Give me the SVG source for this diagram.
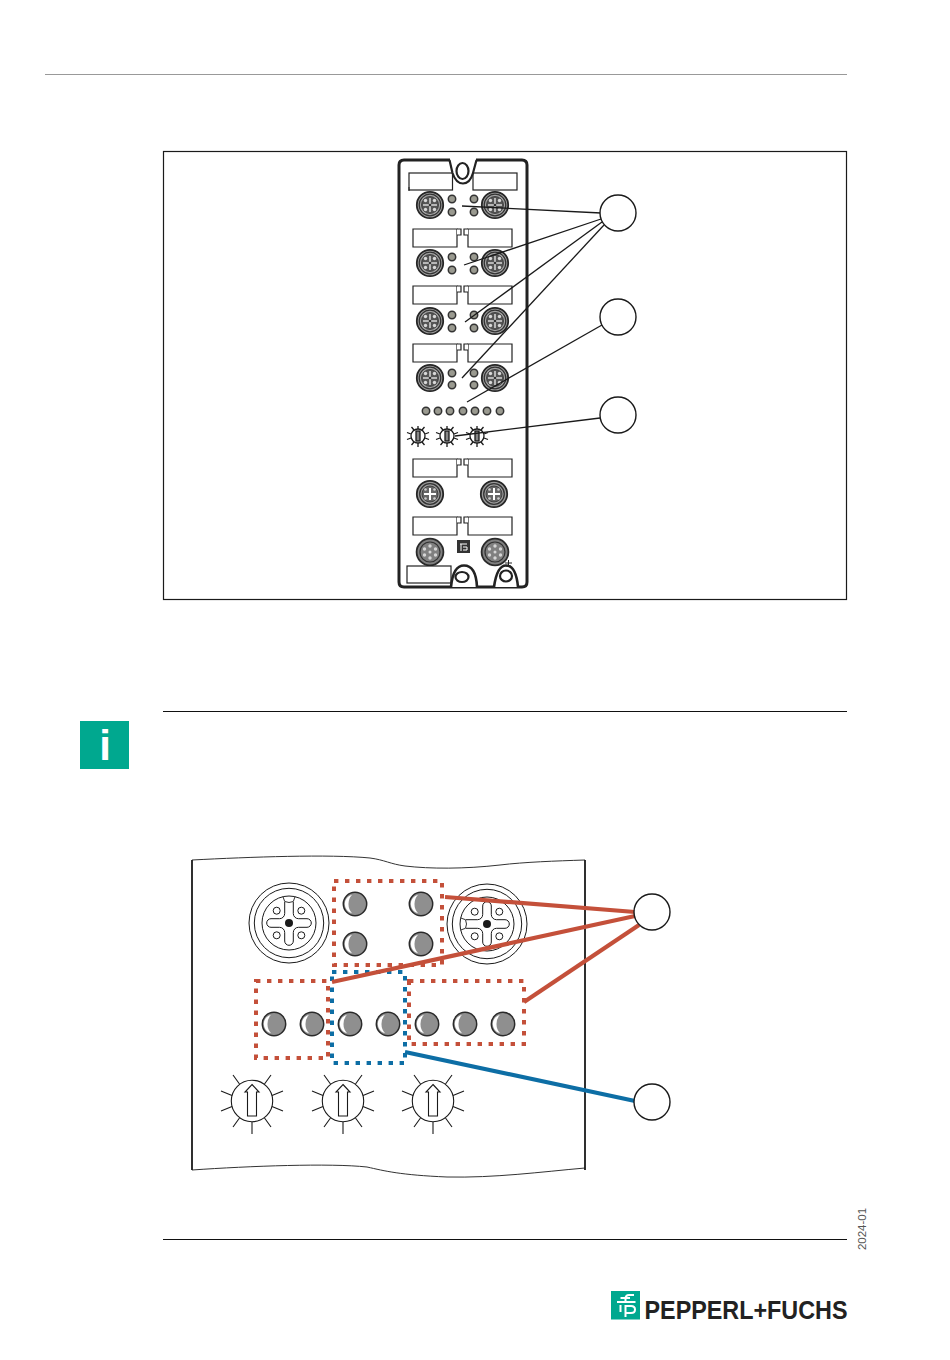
<svg xmlns="http://www.w3.org/2000/svg" width="950" height="1360" viewBox="0 0 950 1360">
<style>
.ln{fill:none;stroke:#1a1a1a}
.lab{fill:#fff;stroke:#222;stroke-width:1.2}
.led{fill:#8f8f8f;stroke:#2a2a2a;stroke-width:1.5}
.sled{fill:#9a9a90;stroke:#333;stroke-width:1.5}
.call{fill:#fff;stroke:#1a1a1a;stroke-width:1.4}
.lead{fill:none;stroke:#1a1a1a;stroke-width:1.3}
.red{fill:none;stroke:#c4503a;stroke-width:4;stroke-dasharray:4.4 6.6}
.blue{fill:none;stroke:#0d6ea5;stroke-width:4;stroke-dasharray:4.4 6.6}
.redl{fill:none;stroke:#c4503a;stroke-width:4.2}
.bluel{fill:none;stroke:#0d6ea5;stroke-width:4.2}
</style>
<defs>
<g id="led"><circle r="11.7" class="led"/><path d="M-3,-9.3A9.6,9.6 0 0 0 -3,9.3A14,14 0 0 1 -3,-9.3Z" fill="#fff"/></g>
<g id="bigcon" class="ln" stroke-width="1">
<circle r="40"/><circle r="34.7"/><circle r="27"/>
<path d="M-4.300,-21V-9.500A5.200,5.200 0 0 1 -9.500,-4.300H-18A4.300,4.300 0 0 0 -18,4.300H-9.500A5.200,5.200 0 0 1 -4.300,9.500V18A4.300,4.300 0 0 0 4.300,18V9.500A5.200,5.200 0 0 1 9.500,4.300H18A4.300,4.300 0 0 0 18,-4.300H9.500A5.200,5.200 0 0 1 4.300,-9.500V-21"/>
<path d="M-6,-26.300L-4.300,-21.500Q0,-19.500 4.300,-21.500L6,-26.300" stroke-width="0.9"/>
<circle cx="-12.300" cy="-12.300" r="3.500"/><circle cx="12.300" cy="-12.300" r="3.500"/><circle cx="-12.300" cy="12.300" r="3.500"/><circle cx="12.300" cy="12.300" r="3.500"/>
<circle r="4" fill="#1a1a1a" stroke="none"/>
</g>
<g id="knob" class="ln" stroke-width="1.1">
<circle r="20.700"/>
<path d="M0,21V33M-12.500,17L-19,26M12.500,17L19,26M-20,5.500L-31,10M20,5.500L31,10M-20,-5.500L-31,-10M20,-5.500L31,-10M-12.500,-17L-19,-26M12.500,-17L19,-26"/>
<path d="M0,-16.500L7,-9H4.500V15H-4.500V-9H-7Z"/>
</g>
<g id="sknob" class="ln" stroke-width="1.3">
<circle r="7"/>
<path d="M0,7V11M-4,6L-6.500,9M4,6L6.500,9M-7,2L-11,3.500M7,2L11,3.500M-7,-2L-11,-3.500M7,-2L11,-3.500M-4,-6L-6.500,-9M4,-6L6.500,-9M0,-7V-10"/>
<rect x="-2" y="-5" width="4" height="10" fill="#888"/>
</g>
<g id="con8">
<circle r="13.200" fill="#a5a5a5" stroke="#262626" stroke-width="1.8"/>
<circle r="10.800" fill="#a5a5a5" stroke="#333" stroke-width="1.300"/>
<circle r="8.500" fill="#555" stroke="#333" stroke-width="0.800"/>
<path d="M0,-7V7M-7,0H7" stroke="#d8d8d8" stroke-width="1.500"/>
<g fill="#d8d8d8"><circle cx="4.500" cy="4.500" r="1.700"/><circle cx="-4.500" cy="4.500" r="1.700"/><circle cx="4.500" cy="-4.500" r="1.700"/><circle cx="-4.500" cy="-4.500" r="1.700"/></g>
<circle r="1.300" fill="#333"/>
</g>
<g id="con5">
<circle r="13.200" fill="#9a9a9a" stroke="#262626" stroke-width="1.800"/>
<circle r="10.300" fill="#9a9a9a" stroke="#333" stroke-width="1.300"/>
<circle r="8" fill="#666" stroke="#333" stroke-width="0.800"/>
<path d="M0,-6V6M-6,0H6" stroke="#fff" stroke-width="2"/>
<g fill="#ccc"><circle cx="4.500" cy="4.500" r="1.300"/><circle cx="-4.500" cy="4.500" r="1.300"/><circle cx="4.500" cy="-4.500" r="1.300"/><circle cx="-4.500" cy="-4.500" r="1.300"/></g>
</g>
<g id="con0">
<circle r="13.400" fill="#808080" stroke="#2a2a2a" stroke-width="1.800"/>
<circle r="10" fill="#808080" stroke="#333" stroke-width="1.200"/>
<g fill="#d5d5d5"><circle cx="0" cy="-6" r="1.700"/><circle cx="0" cy="6" r="1.700"/><circle cx="5.500" cy="-3" r="1.700"/><circle cx="-5.500" cy="-3" r="1.700"/><circle cx="5.500" cy="3" r="1.700"/><circle cx="-5.500" cy="3" r="1.700"/><circle r="1.500"/></g>
</g>
<g id="labs">
<path class="lab" d="M413,0H457V18H413Z"/>
<path class="lab" d="M457,0H461V6H457"/>
<path class="lab" d="M468,0H512V18H468Z"/>
<path class="lab" d="M468,0H464V6H468"/>
</g>
</defs>
<rect width="950" height="1360" fill="#fff"/>
<g id="page-rules">
<path d="M45,74.500H847" stroke="#999" stroke-width="1.200" fill="none"/>
<path d="M163,711.500H847M163,1239.500H847" stroke="#111" stroke-width="1.200" fill="none"/>
</g>
<g id="frame"><rect x="163.500" y="151.500" width="683" height="448" fill="#fff" stroke="#1a1a1a" stroke-width="1.200"/></g>

<g id="device">
<path d="M450,160H404Q399,160 399,165V582Q399,587 404,587H522Q527,587 527,582V165Q527,160 522,160H476" fill="#fff" stroke="#222" stroke-width="3"/>
<rect class="lab" x="409" y="173" width="43.500" height="17"/><rect class="lab" x="473" y="173" width="44" height="17"/>
<path d="M449.500,160L452.500,173Q456,183.500 463,183.500Q470,183.500 473,173L476.500,160" fill="#fff" stroke="#222" stroke-width="2.200"/>
<ellipse cx="462.500" cy="171" rx="6" ry="8" fill="#fff" stroke="#222" stroke-width="2.200"/>
<path d="M409,187V191" stroke="#222" fill="none"/>
<use href="#labs" y="229"/><use href="#labs" y="286"/><use href="#labs" y="344"/><use href="#labs" y="459"/><use href="#labs" y="517"/>
<g id="ports">
<use href="#con8" x="430" y="205"/><use href="#con8" x="495" y="205"/>
<use href="#con8" x="430" y="263"/><use href="#con8" x="495" y="263"/>
<use href="#con8" x="430" y="321"/><use href="#con8" x="495" y="321"/>
<use href="#con8" x="430" y="378"/><use href="#con8" x="495" y="378"/>
<use href="#con5" x="430" y="494"/><use href="#con5" x="494" y="494"/>
<use href="#con0" x="430" y="552"/><use href="#con0" x="495" y="552"/>
</g>
<g id="leds">
<circle class="sled" cx="452" cy="199" r="3.700"/><circle class="sled" cx="452" cy="212" r="3.700"/><circle class="sled" cx="474" cy="199" r="3.700"/><circle class="sled" cx="474" cy="212" r="3.700"/>
<circle class="sled" cx="452" cy="257" r="3.700"/><circle class="sled" cx="452" cy="270" r="3.700"/><circle class="sled" cx="474" cy="257" r="3.700"/><circle class="sled" cx="474" cy="270" r="3.700"/>
<circle class="sled" cx="452" cy="315" r="3.700"/><circle class="sled" cx="452" cy="328" r="3.700"/><circle class="sled" cx="474" cy="315" r="3.700"/><circle class="sled" cx="474" cy="328" r="3.700"/>
<circle class="sled" cx="452" cy="373" r="3.700"/><circle class="sled" cx="452" cy="385" r="3.700"/><circle class="sled" cx="474" cy="373" r="3.700"/><circle class="sled" cx="474" cy="385" r="3.700"/>
<circle class="sled" cx="426" cy="411" r="3.700"/><circle class="sled" cx="438" cy="411" r="3.700"/><circle class="sled" cx="450" cy="411" r="3.700"/><circle class="sled" cx="463" cy="411" r="3.700"/><circle class="sled" cx="475" cy="411" r="3.700"/><circle class="sled" cx="487" cy="411" r="3.700"/><circle class="sled" cx="500" cy="411" r="3.700"/>
</g>
<use href="#sknob" x="418" y="436"/><use href="#sknob" x="447" y="436"/><use href="#sknob" x="477" y="436"/>
<g id="device-logo"><rect x="457" y="540" width="13" height="13" fill="#333"/><path d="M460,544H467M461,544V551M463,547H467V550H463" stroke="#fff" stroke-width="1" fill="none"/></g>
<rect class="lab" x="407" y="566" width="44" height="17"/>
<path d="M451,587Q453,565.500 464,565.500Q476,565.500 477,587" fill="#fff" stroke="#222" stroke-width="2.600"/>
<ellipse cx="462" cy="577" rx="6.500" ry="5" fill="#fff" stroke="#222" stroke-width="2.200"/>
<path d="M494,587Q497,565.500 506,565.500Q516,565.500 518,587" fill="#fff" stroke="#222" stroke-width="2.600"/>
<ellipse cx="506" cy="576" rx="6" ry="5.500" fill="#fff" stroke="#222" stroke-width="2.200"/>
<path d="M505,563H512M508.500,560V566M506,566H511" stroke="#222" stroke-width="1" fill="none"/>
</g>

<g id="connectors-top">
<path class="lead" d="M462,206L601,213"/>
<path class="lead" d="M464,265L601,219"/>
<path class="lead" d="M465,322L602,222"/>
<path class="lead" d="M462,378L604,225"/>
<path class="lead" d="M467,402L602,325"/>
<path class="lead" d="M455,436L600,418"/>
</g>
<g id="callout-1"><circle class="call" cx="618" cy="213" r="18"/></g>
<g id="callout-2"><circle class="call" cx="618" cy="317" r="18"/></g>
<g id="callout-3"><circle class="call" cx="618" cy="415" r="18"/></g>

<g id="icon-info"><rect x="80" y="721" width="49" height="48" fill="#00a88f"/><text x="105" y="760" text-anchor="middle" font-family="Liberation Sans, Arial, sans-serif" font-weight="700" font-size="42" fill="#fff">i</text></g>

<g id="detail-panel">
<path d="M192,860C250,857 330,854 370,858C385,860 390,864 405,866C430,869 465,869 500,865C525,862 555,861 585,860M192,1170C250,1166 330,1163 367,1167C385,1171 400,1175 447,1177C495,1178 540,1172 585,1168" fill="none" stroke="#333" stroke-width="1"/>
<path d="M192,860V1170M585,860V1170" fill="none" stroke="#1a1a1a" stroke-width="1.800"/>
</g>
<g id="m12-left"><use href="#bigcon" x="289" y="923"/></g>
<g id="m12-right"><use href="#bigcon" transform="translate(487,924) rotate(-90)"/></g>
<g id="detail-leds">
<use href="#led" x="355" y="904"/><use href="#led" x="421" y="904"/><use href="#led" x="355" y="944"/><use href="#led" x="421" y="944"/>
<use href="#led" x="274" y="1024"/><use href="#led" x="312" y="1024"/><use href="#led" x="350" y="1024"/><use href="#led" x="388" y="1024"/><use href="#led" x="427" y="1024"/><use href="#led" x="465" y="1024"/><use href="#led" x="503" y="1024"/>
</g>
<g id="detail-knobs"><use href="#knob" x="252" y="1101"/><use href="#knob" x="343" y="1101"/><use href="#knob" x="433" y="1101"/></g>
<g id="groups">
<rect class="red" x="334" y="881" width="108" height="84"/>
<rect class="red" x="256" y="981" width="72" height="77"/>
<rect class="red" x="409" y="981" width="115" height="63"/>
<rect class="blue" x="332" y="972" width="73" height="91"/>
</g>
<g id="connectors-detail">
<path class="redl" d="M445,897L635,912"/>
<path class="redl" d="M332,982L635,916"/>
<path class="redl" d="M524,1002L639,925"/>
<path class="bluel" d="M405,1052L635,1101"/>
</g>
<g id="callout-4"><circle class="call" cx="652" cy="912" r="18"/></g>
<g id="callout-5"><circle class="call" cx="652" cy="1102" r="18"/></g>

<text id="doc-date" transform="translate(865.500,1250) rotate(-90)" font-family="Liberation Sans, Arial, sans-serif" font-size="11" fill="#555" textLength="42" lengthAdjust="spacingAndGlyphs">2024-01</text>
<g id="brand">
<rect x="611" y="1291" width="29" height="28.500" fill="#00a88f"/>
<path d="M634,1295H629Q625.500,1295 625.500,1299V1302M617,1302H635.500M625.500,1305V1317M620.500,1305V1312M625.500,1306H631Q635,1306 635,1309.500Q635,1313 631,1313H625.500M620.500,1298H630" fill="none" stroke="#fff" stroke-width="2"/>
<text x="644.500" y="1319" font-family="Liberation Sans, Arial, sans-serif" font-weight="700" font-size="25" fill="#222" textLength="203" lengthAdjust="spacingAndGlyphs">PEPPERL+FUCHS</text>
</g>
</svg>
